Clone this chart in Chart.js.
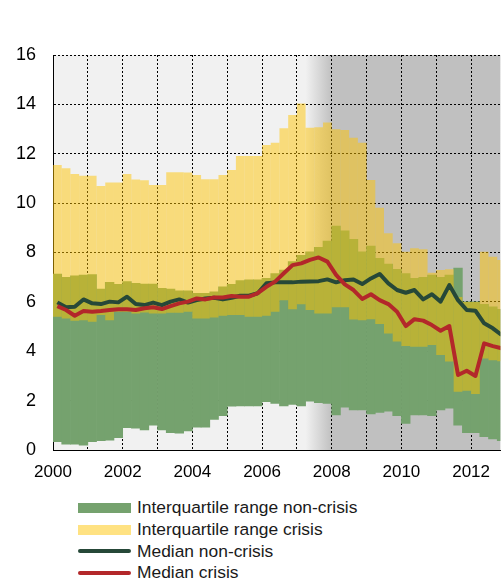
<!DOCTYPE html>
<html>
<head>
<meta charset="utf-8">
<script src="https://cdn.jsdelivr.net/npm/chart.js@4.4.1/dist/chart.umd.min.js"></script>
<style>
  body { margin: 0; background: #fff; }
  #wrap { position: relative; width: 502px; height: 587px; overflow: hidden; font-family: 'Liberation Sans', Arial, sans-serif; }
  #chart { position: absolute; left: 0; top: 0; }
  #legend { position: absolute; left: 78px; top: 497px; }
  .item { display: flex; align-items: center; height: 21.7px; font-size: 17.4px; color: #1a1a1a; }
  .sw { width: 53px; margin-right: 6px; }
</style>
</head>
<body>
<div id="wrap">
  <canvas id="chart" width="502" height="487"></canvas>
  <div id="legend"></div>
</div>
<script>
  // quarterly observations, 2000Q1 - 2012Q4
  const years = [2000, 2001, 2002, 2003, 2004, 2005, 2006, 2007, 2008, 2009, 2010, 2011, 2012];
  const quarters = years.flatMap(y => ['Q1', 'Q2', 'Q3', 'Q4'].map(q => y + q));

  const nonCrisisQ1 = [
    0.34, 0.24, 0.24, 0.20,  0.34, 0.38, 0.40, 0.50,  0.90, 0.88, 0.81, 1.01,
    0.81, 0.70, 0.68, 0.77,  0.92, 0.92, 1.24, 1.39,  1.78, 1.79, 1.79, 1.79,
    1.96, 1.89, 1.79, 1.85,  1.79, 1.98, 1.92, 1.89,  1.42, 1.73, 1.62, 1.62,
    1.46, 1.52, 1.57, 1.39,  1.08, 1.42, 1.42, 1.39,  1.62, 1.69, 1.01, 0.70,
    0.70, 0.54, 0.45, 0.38
  ];
  const nonCrisisQ3 = [
    7.13, 6.99, 7.05, 7.09,  7.11, 6.52, 6.79, 6.71,  6.82, 6.75, 6.72, 6.72,
    6.55, 6.52, 6.45, 6.45,  6.35, 6.35, 6.41, 6.61,  6.71, 6.86, 6.89, 6.89,
    6.95, 7.15, 7.29, 7.63,  7.89, 8.03, 8.21, 8.46,  9.07, 8.88, 8.53, 8.03,
    8.26, 7.76, 7.53, 7.32,  7.15, 6.95, 6.99, 7.09,  6.99, 7.09, 7.37, 6.00,
    6.00, 5.90, 5.80, 5.70
  ];
  const crisisQ1 = [
    5.40, 5.33, 5.24, 5.26,  5.20, 5.47, 5.26, 5.60,  5.60, 5.53, 5.57, 5.53,
    5.53, 5.56, 5.56, 5.60,  5.33, 5.33, 5.37, 5.44,  5.47, 5.47, 5.40, 5.40,
    5.44, 5.60, 6.07, 5.70,  5.90, 5.67, 5.53, 5.53,  5.78, 5.78, 5.29, 5.26,
    5.30, 5.10, 4.72, 4.39,  4.21, 4.18, 4.18, 4.25,  3.85, 3.58, 2.36, 2.40,
    2.27, 3.71, 3.64, 3.60
  ];
  const crisisQ3 = [
    11.54, 11.41, 11.18, 11.11,  11.11, 10.69, 10.84, 10.84,  11.18, 10.96, 10.93, 10.73,
    10.73, 11.25, 11.25, 11.24,  11.14, 10.97, 10.97, 11.14,  11.34, 11.91, 11.91, 11.91,
    12.35, 12.45, 13.03, 13.57,  14.04, 13.05, 13.07, 13.27,  12.99, 12.96, 12.65, 12.45,
    10.94, 9.81, 8.78, 8.37,     8.03, 8.17, 8.13, 7.18,      7.29, 7.32, 6.20, 6.00,
    6.00, 8.03, 7.83, 7.70
  ];
  const nonCrisisMedian = [
    5.98, 5.78, 5.80, 6.10,  5.94, 5.91, 6.01, 5.98,  6.21, 5.91, 5.87, 5.97,
    5.87, 6.01, 6.10, 5.97,  6.07, 6.14, 6.17, 6.10,  6.17, 6.25, 6.25, 6.35,
    6.75, 6.79, 6.79, 6.79,  6.82, 6.83, 6.84, 6.91,  6.79, 6.88, 6.91, 6.72,
    6.95, 7.13, 6.75, 6.48,  6.37, 6.48, 6.10, 6.31,  6.01, 6.68, 6.07, 5.67,
    5.64, 5.13, 4.93, 4.66
  ];
  const crisisMedian = [
    5.83, 5.67, 5.44, 5.63,  5.60, 5.63, 5.67, 5.70,  5.70, 5.67, 5.74, 5.78,
    5.71, 5.83, 5.94, 6.01,  6.14, 6.10, 6.18, 6.18,  6.24, 6.21, 6.21, 6.35,
    6.61, 6.82, 7.16, 7.49,  7.56, 7.70, 7.80, 7.63,  7.09, 6.71, 6.48, 6.12,
    6.31, 6.07, 5.91, 5.60,  5.02, 5.30, 5.24, 5.06,  4.83, 5.02, 3.04, 3.21,
    3.00, 4.32, 4.21, 4.12
  ];

  // shaded crisis period on the x axis (from, to)
  const crisisShade = [2007.25, 2008];

  // centre of each quarter in decimal years
  const qx = q => parseInt(q, 10) + (Number(q.slice(-1)) - 1) / 4 + 0.125;

  const range = (lo, hi) => quarters.map((q, i) => ({ x: qx(q), y: [lo[i], hi[i]] }));
  const series = vals => quarters.map((q, i) => ({ x: qx(q), y: vals[i] }));

  const shading = {
    id: 'shading',
    beforeDraw(chart) {
      const { ctx, chartArea: a, scales: { x } } = chart;
      const g = ctx.createLinearGradient(x.getPixelForValue(crisisShade[0]), 0, x.getPixelForValue(crisisShade[1]), 0);
      g.addColorStop(0, '#f1f1f1');
      g.addColorStop(1, '#c0c0c0');
      ctx.save();
      ctx.fillStyle = g;
      ctx.fillRect(a.left, a.top, a.width, a.height);
      ctx.restore();
    }
  };

  const font = { family: "'Liberation Sans', Arial, sans-serif", size: 17 };

  const chart = new Chart(document.getElementById('chart'), {
    type: 'bar',
    data: {
      datasets: [
        {
          label: 'Interquartile range non-crisis',
          data: range(nonCrisisQ1, nonCrisisQ3),
          backgroundColor: '#75a26e',
          grouped: false, barPercentage: 1, categoryPercentage: 1,
          borderWidth: 0, order: 3
        },
        {
          label: 'Interquartile range crisis',
          data: range(crisisQ1, crisisQ3),
          backgroundColor: 'rgba(255, 196, 0, 0.49)',
          grouped: false, barPercentage: 1, categoryPercentage: 1,
          borderWidth: 0, inflateAmount: 0, order: 2
        },
        {
          type: 'line',
          label: 'Median non-crisis',
          data: series(nonCrisisMedian),
          borderColor: '#264838',
          borderWidth: 4, pointRadius: 0, tension: 0,
          borderJoinStyle: 'round', order: 1
        },
        {
          type: 'line',
          label: 'Median crisis',
          data: series(crisisMedian),
          borderColor: '#b3272a',
          borderWidth: 4, pointRadius: 0, tension: 0,
          borderJoinStyle: 'round', order: 0
        }
      ]
    },
    options: {
      responsive: false,
      animation: false,
      layout: { padding: { top: 55, right: 0, left: 0, bottom: 0 } },
      plugins: { legend: { display: false }, tooltip: { enabled: false } },
      scales: {
        x: {
          type: 'linear',
          min: 2000,
          max: 2012.84,
          offset: false,
          grid: { offset: false, color: '#000', lineWidth: 1, drawTicks: false },
          border: { display: true, color: '#000', width: 1, dash: [2, 2] },
          ticks: {
            stepSize: 1,
            includeBounds: false,
            autoSkip: false,
            maxRotation: 0,
            padding: 12,
            color: '#000',
            font: font,
            callback: v => (v % 2 === 0 ? String(v) : '')
          },
          afterFit: s => { s.height = 37; }
        },
        y: {
          min: 0,
          max: 16,
          grid: { color: '#000', lineWidth: 1, drawTicks: false },
          border: { display: true, color: '#000', width: 1, dash: [2, 2] },
          ticks: { stepSize: 2, padding: 17, color: '#000', font: { family: font.family, size: 18 } },
          afterFit: s => { s.width = 53; }
        }
      }
    },
    plugins: [shading]
  });

  // legend under the plot
  const legend = document.getElementById('legend');
  chart.data.datasets.forEach(ds => {
    const item = document.createElement('div');
    item.className = 'item';
    const sw = document.createElement('div');
    sw.className = 'sw';
    if (ds.type === 'line') {
      sw.style.height = '4px';
      sw.style.borderRadius = '2px';
      sw.style.background = ds.borderColor;
    } else {
      sw.style.height = '10px';
      sw.style.background = ds.backgroundColor;
    }
    const txt = document.createElement('span');
    txt.textContent = ds.label;
    item.appendChild(sw);
    item.appendChild(txt);
    legend.appendChild(item);
  });
</script>
</body>
</html>
